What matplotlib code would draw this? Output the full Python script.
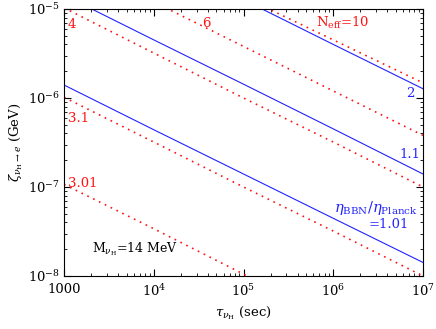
import numpy as np
import matplotlib
matplotlib.use("Agg")
import matplotlib.pyplot as plt
from matplotlib.ticker import FixedLocator, LogLocator, NullFormatter

plt.rcParams['font.family'] = ['DejaVu Serif']
plt.rcParams['mathtext.fontset'] = 'dejavuserif'

tau = [1e3, 1e4, 1e5, 1e6, 1e7]

# eta_BBN / eta_Planck contours (solid blue)
eta_101 = [1.40e-6, 4.4e-7, 1.40e-7, 4.45e-8, 1.42e-8]
eta_11 = [1.43e-5, 4.5e-6, 1.43e-6, 4.5e-7, 1.40e-7]
eta_2 = [4.0e-5, 1.27e-5 * 3.16, 1.27e-5, 4.0e-6, 1.27e-6]

# N_eff contours (dotted red)
neff_301 = [1.07e-7, 3.4e-8, 1.05e-8, 3.3e-9, 1.05e-9]
neff_31 = [1.02e-6, 3.2e-7, 1.0e-7, 3.2e-8, 1.0e-8]
neff_4 = [1.03e-5, 3.2e-6, 1.0e-6, 3.2e-7, 1.0e-7]
neff_6 = [3.8e-5, 1.2e-5, 3.8e-6, 1.2e-6, 3.8e-7]
neff_10 = [1.27e-4, 4.2e-5, 1.37e-5, 4.5e-6, 1.48e-6]

xtick_vals = [1e3, 1e4, 1e5, 1e6, 1e7]
xtick_labels = ['1000', r'$10^4$', r'$10^5$', r'$10^6$', r'$10^7$']
ytick_vals = [1e-8, 1e-7, 1e-6, 1e-5]
ytick_labels = [r'$10^{-8}$', r'$10^{-7}$', r'$10^{-6}$', r'$10^{-5}$']

fig = plt.figure(figsize=(4.36, 3.29), dpi=100)
ax = fig.add_axes([64 / 436, 1 - 276 / 329, 359 / 436, 267 / 329])

blue = '#2222ff'
red = '#ff1111'
for z in (eta_101, eta_11, eta_2):
    ax.plot(tau, z, color=blue, lw=0.8)
for z in (neff_301, neff_31, neff_4, neff_6, neff_10):
    ax.plot(tau, z, color=red, lw=1.2, linestyle=(0, (1, 2.9)))

ax.set_xscale('log')
ax.set_yscale('log')
ax.set_xlim(1e3, 1e7)
ax.set_ylim(1e-8, 1e-5)

ax.xaxis.set_major_locator(FixedLocator(xtick_vals))
ax.set_xticklabels(xtick_labels)
ax.yaxis.set_major_locator(FixedLocator(ytick_vals))
ax.set_yticklabels(ytick_labels)
ax.xaxis.set_minor_locator(LogLocator(base=10, subs=np.arange(2, 10), numticks=20))
ax.yaxis.set_minor_locator(LogLocator(base=10, subs=np.arange(2, 10), numticks=20))
ax.xaxis.set_minor_formatter(NullFormatter())
ax.yaxis.set_minor_formatter(NullFormatter())
ax.tick_params(which='both', direction='in', top=True, right=True, labelsize=9.5)
ax.tick_params(which='major', length=5, width=0.8)
ax.tick_params(which='minor', length=2.5, width=0.6)
ax.tick_params(axis='x', pad=5)
ax.tick_params(axis='y', pad=3)
for s in ax.spines.values():
    s.set_linewidth(0.8)

ax.set_xlabel(r'$\tau_{\nu_{\rm H}}$ (sec)', fontsize=9.5, labelpad=4)
ax.set_ylabel(r'$\zeta_{\nu_{\rm H}\to e}$ (GeV)', fontsize=9.5, labelpad=2)

tr = ax.transAxes
fs = 9.5
ax.text(0.011, 0.929, '4', color=red, fontsize=fs, transform=tr)
ax.text(0.384, 0.933, '6', color=red, fontsize=fs, transform=tr)
ax.text(0.702, 0.933, r'N$_{\rm eff}$=10', color=red, fontsize=fs, transform=tr)
ax.text(0.011, 0.577, '3.1', color=red, fontsize=fs, transform=tr)
ax.text(0.011, 0.333, '3.01', color=red, fontsize=fs, transform=tr)
ax.text(0.953, 0.670, '2', color=blue, fontsize=fs, transform=tr)
ax.text(0.933, 0.442, '1.1', color=blue, fontsize=fs, transform=tr)
ax.text(0.986, 0.240, r'$\eta_{\rm BBN}/\eta_{\rm Planck}$', color=blue,
        fontsize=10.5, ha='right', transform=tr)
ax.text(0.961, 0.180, '=1.01', color=blue, fontsize=fs, ha='right', transform=tr)
ax.text(0.078, 0.090, r'M$_{\nu_{\rm H}}$=14 MeV', color='black', fontsize=9,
        transform=tr)

fig.savefig('out.png', dpi=100)
